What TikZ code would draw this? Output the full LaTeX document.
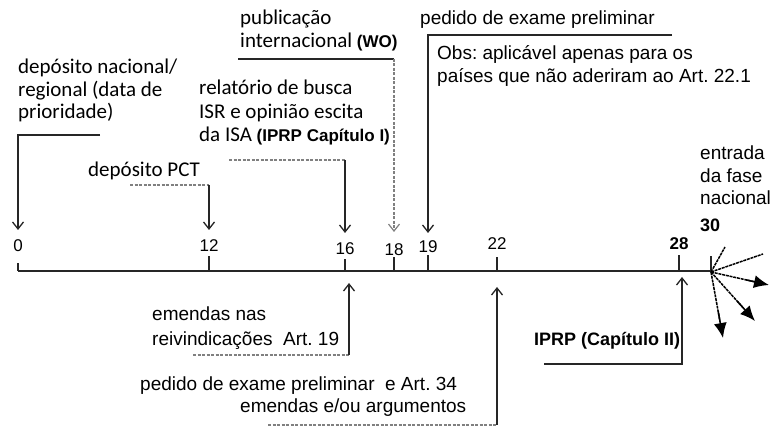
\documentclass[tikz,border=0pt]{standalone}
\usepackage{fontspec}
\setmainfont{Liberation Sans}
\newfontfamily\calfont{Carlito}
\usetikzlibrary{arrows.meta,calc}
\frenchspacing
\newcommand{\bb}{\normalfont\bfseries\fontsize{17}{23}\selectfont}
\tikzset{
 cal/.style={font=\calfont\fontsize{21}{23}\selectfont, inner sep=0pt, anchor=base west},
 ari/.style={font=\fontsize{19}{23}\selectfont, inner sep=0pt, anchor=base west},
 num/.style={font=\fontsize{17}{19}\selectfont, inner sep=0pt, anchor=base},
 ln/.style={line width=1.3pt, draw=black!85},
 dsh/.style={line width=1.2pt, draw=gray, dash pattern=on 3pt off 1.5pt},
 dnarr/.style={-{Straight Barb[length=7pt,width=11pt]}},
 fanln/.style={line width=1.5pt, dash pattern=on 3pt off 0.8pt},
 fanhead/.style={line width=1.5pt, -{Latex[length=15pt,width=13pt]}},
}
\begin{document}
\begin{tikzpicture}[x=1pt,y=-1pt]
\useasboundingbox (0,0) rectangle (773,427);

% texts
\node[cal] (dn1) at (18,74) {depósito nacional/};
\node[cal] (dn2) at (18,97) {regional (data de};
\node[cal] (dn3) at (18,119) {prioridade)};
\node[cal] (pub1) at (240,25) {publicação};
\node[cal] (pub2) at (240,48) {internacional {\bb(WO)}};
\node[cal] (rel1) at (199,95) {relatório de busca};
\node[cal] (rel2) at (199,119) {ISR e opinião escita};
\node[cal] (rel3) at (199,142) {da ISA {\bb(IPRP Capítulo I)}};
\node[cal] (pct) at (88,177) {depósito PCT};
\node[ari] (pe) at (420,25) {pedido de exame preliminar};
\node[ari] (obs1) at (437,60) {Obs: aplicável apenas para os};
\node[ari] (obs2) at (437,83) {países que não aderiram ao Art. 22.1};
\node[ari] (en1) at (700,160) {entrada};
\node[ari] (en2) at (700,183) {da fase};
\node[ari] (en3) at (700,205) {nacional};
\node[ari] (n30) at (700,232) {\bb\fontsize{18}{20}\selectfont 30};
\node[ari] (em1) at (152,320) {emendas nas};
\node[ari] (em2) at (152,345) {reivindicações\ \ Art. 19};
\node[ari] (pb1) at (140,390) {pedido de exame preliminar\ \ e Art. 34};
\node[ari] (pb2) at (240,412) {emendas e/ou argumentos};
\node[ari] (iprp) at (534,345) {\bb\fontsize{18}{20}\selectfont IPRP (Capítulo II)};

% numbers
\node[num] (n0) at (18,252) {0};
\node[num] (n12) at (209,252) {12};
\node[num] (n16) at (345,255) {16};
\node[num] (n18) at (394,256) {18};
\node[num] (n19) at (428,253) {19};
\node[num] (n22) at (497,250) {22};
\node[num] (n28) at (679,250) {\bfseries 28};

% axis and ticks
\coordinate (a0) at (18,271);
\coordinate (a30) at (711,271);
\draw[ln, line width=1.6pt] (a0) -- (a30);
\foreach \x/\t in {18/263,209/256,345/259,394/257,428/255,497/257,679/255,711/256}
  \draw[ln] (\x,271) -- (\x,\t);

% down arrows
\coordinate (d0s) at (100,135); \coordinate (d0c) at (18,135); \coordinate (d0e) at (18,230);
\draw[ln,dnarr] (d0s) -- (d0c) -- (d0e);
\coordinate (d12s) at (130,185); \coordinate (d12c) at (209,185); \coordinate (d12e) at (209,230);
\draw[dsh] (d12s) -- (d12c);
\draw[ln,dnarr] (d12c) -- (d12e);
\coordinate (d16s) at (229,160); \coordinate (d16c) at (345,160); \coordinate (d16e) at (345,233);
\draw[dsh] (d16s) -- (d16c);
\draw[ln,dnarr] (d16c) -- (d16e);
\coordinate (d18s) at (238,59); \coordinate (d18c) at (394,59); \coordinate (d18e) at (394,232);
\draw[ln] (d18s) -- (d18c);
\draw[dsh,dnarr] (d18c) -- (d18e);
\coordinate (d19s) at (672,35); \coordinate (d19c) at (428,35); \coordinate (d19e) at (428,233);
\draw[ln,dnarr] (d19s) -- (d19c) -- (d19e);

% up arrows
\coordinate (u16s) at (193,355); \coordinate (u16c) at (349,355); \coordinate (u16e) at (349,283);
\draw[dsh] (u16s) -- (u16c);
\draw[ln,dnarr] (u16c) -- (u16e);
\coordinate (u22s) at (268,425); \coordinate (u22c) at (497,425); \coordinate (u22e) at (497,287);
\draw[dsh] (u22s) -- (u22c);
\draw[ln,dnarr] (u22c) -- (u22e);
\coordinate (u28s) at (544,364); \coordinate (u28c) at (682,364); \coordinate (u28e) at (682,277);
\draw[ln,dnarr] (u28s) -- (u28c) -- (u28e);

% fan at 30
\coordinate (f) at (711,272);
\coordinate (f1) at (725,247);
\coordinate (f2) at (763,254);
\coordinate (f3) at (769,285);
\coordinate (f4) at (755,321);
\coordinate (f5) at (723,338);
\draw[fanln] (f) -- (f1);
\draw[fanln] (f) -- (f2);
\foreach \p in {f3,f4,f5}{
  \draw[fanln] (f) -- ($(f)!0.75!(\p)$);
  \draw[fanhead] ($(f)!0.6!(\p)$) -- (\p);
}
\end{tikzpicture}
\end{document}
